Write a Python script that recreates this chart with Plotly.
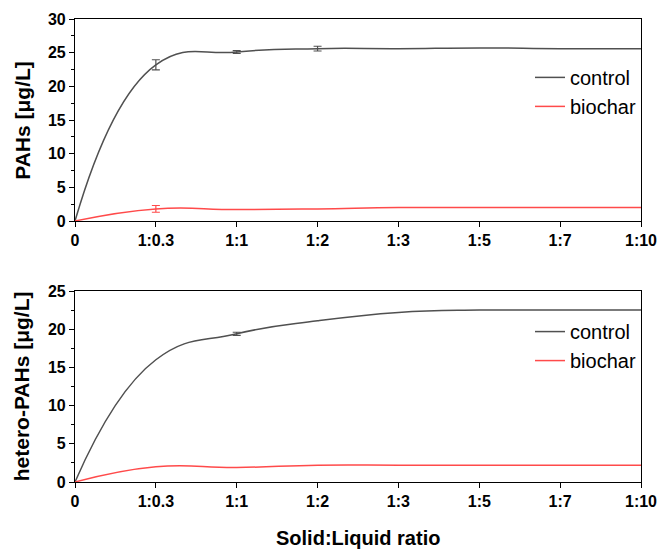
import plotly.graph_objects as go
from plotly.subplots import make_subplots

ratios = ["0", "1:0.3", "1:1", "1:2", "1:3", "1:5", "1:7", "1:10"]
pos = list(range(len(ratios)))

pahs_control = [0, 23.2, 25.1, 25.6, 25.6, 25.7, 25.6, 25.6]
pahs_biochar = [0, 1.8, 1.7, 1.8, 2.0, 2.0, 2.0, 2.0]
pahs_control_err = [None, 0.75, 0.2, 0.35, None, None, None, None]
pahs_biochar_err = [None, 0.5, None, None, None, None, None, None]

hetero_control = [0, 16.0, 19.4, 21.1, 22.2, 22.5, 22.5, 22.5]
hetero_biochar = [0, 2.0, 1.9, 2.2, 2.2, 2.2, 2.2, 2.2]
hetero_control_err = [None, None, 0.2, None, None, None, None, None]

C_CTRL = "#505050"
C_BIO = "#ff4a4a"
FONT = "Liberation Sans, Arial, sans-serif"

fig = make_subplots(rows=2, cols=1, vertical_spacing=0.1)

def add_series(row, yvals, color, name, legend, err=None):
    fig.add_trace(go.Scatter(x=pos, y=yvals, mode="lines", name=name,
                             line=dict(color=color, width=1.5, shape="spline", smoothing=1.3),
                             legend=legend), row=row, col=1)
    if err is not None:
        xs = [p for p, e in zip(pos, err) if e is not None]
        ys = [v for v, e in zip(yvals, err) if e is not None]
        es = [e for e in err if e is not None]
        fig.add_trace(go.Scatter(x=xs, y=ys, mode="markers", showlegend=False,
                                 marker=dict(size=1, color=color, opacity=0),
                                 error_y=dict(type="data", array=es, color=color,
                                              thickness=1.2, width=4)), row=row, col=1)

add_series(1, pahs_control, C_CTRL, "control", "legend", pahs_control_err)
add_series(1, pahs_biochar, C_BIO, "biochar", "legend", pahs_biochar_err)
add_series(2, hetero_control, C_CTRL, "control", "legend2", hetero_control_err)
add_series(2, hetero_biochar, C_BIO, "biochar", "legend2", None)

H = 551
mt, mb = 19, 69
ph = H - mt - mb
top_dom = [(482 - 221) / ph, 1.0]
bot_dom = [0.0, (482 - 291) / ph]

axis_common = dict(showline=True, linecolor="black", linewidth=1.2, mirror=True,
                   ticks="outside", ticklen=5, tickwidth=1.2, tickcolor="black",
                   showgrid=False, zeroline=False, automargin=False,
                   tickfont=dict(family=FONT, size=16, color="black", weight="bold"))

for r in (1, 2):
    fig.update_xaxes(range=[0, 7], tickvals=pos, ticktext=ratios, row=r, col=1, **axis_common)

fig.update_yaxes(range=[0, 30], dtick=5, row=1, col=1,
                 minor=dict(ticks="outside", ticklen=3, tickcolor="black", dtick=2.5),
                 **axis_common)
fig.update_yaxes(range=[0, 25], dtick=5, row=2, col=1,
                 minor=dict(ticks="outside", ticklen=3, tickcolor="black", dtick=2.5),
                 **axis_common)

fig.update_layout(
    width=661, height=551,
    margin=dict(l=75, r=20, t=mt, b=mb, autoexpand=False),
    paper_bgcolor="white", plot_bgcolor="white",
    font=dict(family=FONT, color="black"),
    yaxis=dict(domain=top_dom),
    yaxis2=dict(domain=bot_dom),
    legend=dict(x=1.0, y=0.916, xanchor="right", yanchor="top", bgcolor="rgba(0,0,0,0)",
                font=dict(family=FONT, size=20, color="black"), tracegroupgap=0),
    legend2=dict(x=1.0, y=0.367, xanchor="right", yanchor="top", bgcolor="rgba(0,0,0,0)",
                 font=dict(family=FONT, size=20, color="black"), tracegroupgap=0),
    annotations=[
        dict(text="PAHs [μg/L]", x=-0.094, y=(top_dom[0] + top_dom[1]) / 2, xref="paper", yref="paper",
             xanchor="center", yanchor="middle",
             textangle=-90, showarrow=False, font=dict(family=FONT, size=21, weight="bold")),
        dict(text="hetero-PAHs [μg/L]", x=-0.094, y=(bot_dom[0] + bot_dom[1]) / 2, xref="paper", yref="paper",
             xanchor="center", yanchor="middle",
             textangle=-90, showarrow=False, font=dict(family=FONT, size=21, weight="bold")),
        dict(text="Solid:Liquid ratio", x=0.5, y=-0.121, xref="paper", yref="paper",
             yanchor="middle", showarrow=False, font=dict(family=FONT, size=20, weight="bold")),
    ],
)

fig.write_html("out.html")
